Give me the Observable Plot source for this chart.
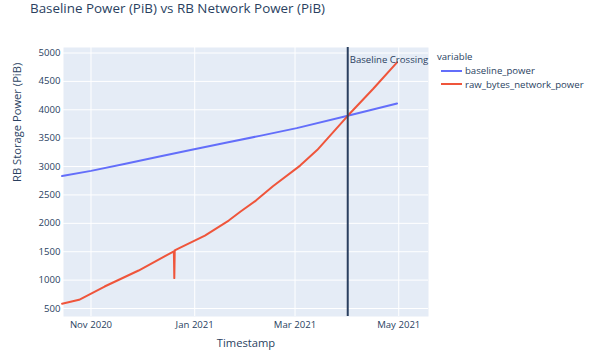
<!DOCTYPE html>
<html>
<head>
<meta charset="utf-8">
<script src="https://cdn.jsdelivr.net/npm/d3@7"></script>
<script src="https://cdn.jsdelivr.net/npm/@observablehq/plot@0.6"></script>
<style>
  html, body { margin: 0; padding: 0; background: white; }
  #wrap { position: relative; width: 599px; height: 351px; overflow: hidden; font-family: "Open Sans", sans-serif; color: #2a3f5f; }
  #title { position: absolute; left: 30px; top: -1px; font-size: 13.4px; line-height: 18px; white-space: nowrap; color: #2a3f5f; }
  #legend { position: absolute; left: 437px; top: 50px; font-size: 9.6px; color: #2a3f5f; }
  #legend .head { height: 14px; line-height: 14px; }
  #legend .item { display: flex; align-items: center; height: 13.5px; }
  #legend .sw { width: 21px; height: 2px; margin-left: 4px; margin-right: 3px; }
  #chart { position: absolute; left: 0; top: 0; }
</style>
</head>
<body>
<div id="wrap">
  <div id="chart"></div>
  <div id="title">Baseline Power (PiB) vs RB Network Power (PiB)</div>
  <div id="legend"></div>
</div>
<script>
// ---- data ----
const baselineDates = ["2020-10-15","2020-11-01","2020-11-22","2020-12-12","2020-12-31","2021-01-20","2021-02-09","2021-03-02","2021-04-01","2021-04-30"];
const baselineValues = [2832, 2924, 3055, 3180, 3300, 3425, 3545, 3677, 3894, 4111];

const networkDates = ["2020-10-15","2020-10-25","2020-11-09","2020-11-29","2020-12-19T18:00","2020-12-20T00:00","2020-12-20T06:00","2020-12-22","2021-01-07","2021-01-21","2021-01-28","2021-02-06","2021-02-16","2021-03-04","2021-03-14","2021-04-01","2021-04-16","2021-04-30"];
const networkValues = [583, 653, 887, 1169, 1508, 1035, 1525, 1551, 1785, 2049, 2208, 2401, 2653, 3017, 3290, 3894, 4370, 4836];

const seriesNames = ["baseline_power", "raw_bytes_network_power"];
const seriesColors = ["#636efa", "#EF553B"];

const xTickDates = ["2020-11-01", "2021-01-01", "2021-03-01", "2021-05-01"];
const yTicks = [500, 1000, 1500, 2000, 2500, 3000, 3500, 4000, 4500, 5000];
const xDomain = ["2020-10-15T20:00", "2021-05-18T12:00"];
const yDomain = [359, 5097];
const crossingDate = "2021-04-01";
const crossingLabel = "Baseline Crossing";

// ---- build tables ----
const parse = s => new Date(s.length === 10 ? s + "T00:00Z" : s + "Z");
const rows = [];
baselineDates.forEach((d, i) => rows.push({series: seriesNames[0], date: parse(d), value: baselineValues[i]}));
networkDates.forEach((d, i) => rows.push({series: seriesNames[1], date: parse(d), value: networkValues[i]}));
const xTicks = xTickDates.map(parse);
const cross = parse(crossingDate);

const chart = Plot.plot({
  width: 599,
  height: 351,
  marginLeft: 63,
  marginRight: 171,
  marginTop: 47,
  marginBottom: 35,
  style: { fontFamily: "Open Sans", fontSize: "9.6px", color: "#2a3f5f", background: "transparent", overflow: "visible" },
  x: { type: "utc", domain: xDomain.map(parse) },
  y: { domain: yDomain },
  color: { domain: seriesNames, range: seriesColors },
  marks: [
    Plot.frame({ fill: "#E5ECF6", stroke: null }),
    Plot.gridX(xTicks, { stroke: "white", strokeOpacity: 1, strokeWidth: 1 }),
    Plot.gridY(yTicks, { stroke: "white", strokeOpacity: 1, strokeWidth: 1 }),
    Plot.axisX(xTicks, { tickFormat: d3.utcFormat("%b %Y"), tickSize: 0, tickPadding: 5, label: null, fill: "#2a3f5f" }),
    Plot.axisY(yTicks, { tickFormat: d3.format("d"), tickSize: 0, tickPadding: 3, label: null, fill: "#2a3f5f" }),
    Plot.line(rows, { x: "date", y: "value", z: "series", stroke: "series", strokeWidth: 2, curve: "linear" }),
    Plot.ruleX([cross], { stroke: "#2a3f5f", strokeWidth: 2 }),
    Plot.text([crossingLabel], { x: () => cross, frameAnchor: "top", textAnchor: "start", dx: 2, dy: 9, fill: "#2a3f5f", fontSize: 9.6 }),
    Plot.text(["Timestamp"], { frameAnchor: "bottom", dy: 30, fill: "#2a3f5f", fontSize: 11.2 }),
    Plot.text(["RB Storage Power (PiB)"], { frameAnchor: "left", dx: -46, rotate: -90, fill: "#2a3f5f", fontSize: 11.2 })
  ]
});
document.getElementById("chart").appendChild(chart);

// legend
const lg = document.getElementById("legend");
const head = document.createElement("div");
head.className = "head";
head.textContent = "variable";
lg.appendChild(head);
seriesNames.forEach((n, i) => {
  const it = document.createElement("div");
  it.className = "item";
  const sw = document.createElement("span");
  sw.className = "sw";
  sw.style.background = seriesColors[i];
  const tx = document.createElement("span");
  tx.textContent = n;
  it.appendChild(sw);
  it.appendChild(tx);
  lg.appendChild(it);
});
</script>
</body>
</html>
